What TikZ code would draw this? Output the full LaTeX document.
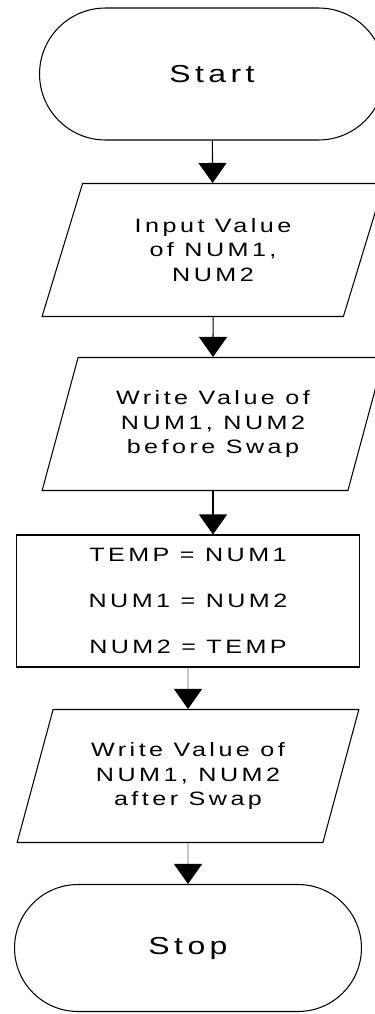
\documentclass[tikz,border=0pt]{standalone}
\usepackage{fontspec}
\setmainfont{Liberation Sans}[FakeStretch=1.3, LetterSpace=18]
\usepackage{tikz}
\usetikzlibrary{positioning, calc, arrows.meta, shapes.geometric, shapes.misc}
\tikzset{>={Triangle[width=0.56cm,length=0.4cm,color=black,fill=black]}}
\tikzset{
    term/.style={draw, rounded rectangle, inner sep=0pt, font=\fontsize{14}{17}\selectfont},
    io/.style={draw, trapezium, trapezium left angle=69, trapezium right angle=111,
        trapezium stretches=true, minimum width=6.84cm, minimum height=2.66cm, inner sep=0pt},
    proc/.style={draw, rectangle, minimum width=6.88cm, minimum height=2.64cm, inner sep=0pt},
}

\begin{document}
\begin{tikzpicture}[x=0.02cm,y=-0.02cm,line width=0.6pt,every node/.style={align=center,font=\fontsize{11}{14}\selectfont}]
    \useasboundingbox (0,0) rectangle (375,1014);
    \node[term,minimum width=6.9cm,minimum height=2.64cm] (start) at (212,74) {Start};
    \node[io] (inp) at (213,250) {Input Value\\of NUM1,\\NUM2};
    \node[io] (wrb) at (213,424) {Write Value of\\NUM1, NUM2\\before Swap};
    \node[proc] (swap) at (188,601) {TEMP = NUM1\\[12pt]NUM1 = NUM2\\[12pt]NUM2 = TEMP};
    \node[io] (wra) at (188,776) {Write Value of\\NUM1, NUM2\\after Swap};
    \node[term,minimum width=6.94cm,minimum height=2.54cm] (stop) at (188,948) {Stop};
    % \node[io] (out) [below=of wra] {};
    \path[->]
        (start)     edge  node {}   (inp)
        (inp)       edge  node {}   (wrb)
        (wrb.south) edge  node {}   (wrb.south |- swap.north)
    ;
    \path[->,draw=gray!70]
        (swap)      edge  node {}   (wra)
        (wra)       edge  node {}   (stop)
    ;
\end{tikzpicture}
\end{document}
